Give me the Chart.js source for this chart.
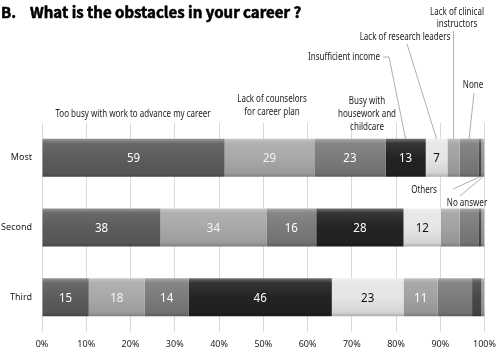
<!DOCTYPE html>
<html>
<head>
<meta charset="utf-8">
<script src="https://cdn.jsdelivr.net/npm/chart.js@4.4.1/dist/chart.umd.min.js"></script>
<style>
  body { margin: 0; background: #fff; }
  #wrap { width: 503px; height: 349px; position: relative; }
</style>
</head>
<body>
<div id="wrap"><canvas id="obstacleChart"></canvas></div>
<script>
const categories = ['Most', 'Second', 'Third'];

// answer counts per rank
const tooBusy         = [59, 38, 15];
const counselors      = [29, 34, 18];
const housework       = [23, 16, 14];
const income          = [13, 28, 46];
const researchLeaders = [7, 12, 23];
const clinical        = [4, 6, 11];
const noneAnswer      = [6, 6, 11];
const others          = [1, 1, 3];
const noAnswer        = [1, 1, 1];

const xTicks = [0, 10, 20, 30, 40, 50, 60, 70, 80, 90, 100];

const series = [
    { name: 'Too busy with work to advance my career', counts: tooBusy, color: '#5c5c5c', text: '#ffffff' },
    { name: 'Lack of counselors for career plan', counts: counselors, color: '#a9a9a9', text: '#f4f4f4' },
    { name: 'Busy with housework and childcare', counts: housework, color: '#7b7b7b', text: '#ffffff' },
    { name: 'Insufficient income', counts: income, color: '#232323', text: '#ffffff' },
    { name: 'Lack of research leaders', counts: researchLeaders, color: '#e6e6e6', text: '#111111' },
    { name: 'Lack of clinical instructors', counts: clinical, color: '#a2a2a2', text: '#ffffff' },
    { name: 'None', counts: noneAnswer, color: '#7c7c7c', text: '#ffffff' },
    { name: 'Others', counts: others, color: '#4b4649', text: '#ffffff' },
    { name: 'No answer', counts: noAnswer, color: '#9a9a9a', text: '#ffffff' }
];

const totals = categories.map((c, i) => series.reduce((s, d) => s + d.counts[i], 0));

function shade(hex, amt) {
    const n = parseInt(hex.slice(1), 16);
    let r = n >> 16, g = (n >> 8) & 255, b = n & 255;
    const t = amt < 0 ? 0 : 255, p = Math.abs(amt);
    r = Math.round(r + (t - r) * p);
    g = Math.round(g + (t - g) * p);
    b = Math.round(b + (t - b) * p);
    return `rgb(${r},${g},${b})`;
}

// bevel look like the office chart
function bevel(ctx, base) {
    const y = ctx.chart.scales.y;
    if (!y || ctx.dataIndex == null) return base;
    const yc = y.getPixelForValue(ctx.dataIndex);
    if (!isFinite(yc)) return base;
    const g = ctx.chart.ctx.createLinearGradient(0, yc - 19, 0, yc + 19);
    g.addColorStop(0, shade(base, 0.35));
    g.addColorStop(0.12, shade(base, 0.08));
    g.addColorStop(0.5, base);
    g.addColorStop(0.9, shade(base, -0.08));
    g.addColorStop(1, shade(base, -0.25));
    return g;
}

const segmentLabels = {
    id: 'segmentLabels',
    afterDatasetsDraw(chart) {
        const ctx = chart.ctx;
        ctx.save();
        ctx.font = '12.5px "Noto Sans"';
        ctx.textAlign = 'center';
        ctx.textBaseline = 'middle';
        series.forEach((s, di) => {
            if (di > 5) return;
            chart.getDatasetMeta(di).data.forEach((bar, i) => {
                const v = s.counts[i];
                if (v < 7) return;
                ctx.fillStyle = s.text;
                const t = String(v);
                ctx.fillText(t, (bar.x + bar.base) / 2, bar.y + 1, ctx.measureText(t).width * 0.92);
            });
        });
        ctx.restore();
    }
};

const callouts = {
    id: 'callouts',
    afterDraw(chart) {
        const ctx = chart.ctx;
        const bar = di => chart.getDatasetMeta(di).data[0];
        const mid = di => (bar(di).x + bar(di).base) / 2;
        const top = di => bar(di).y - bar(di).height / 2;
        const bottom = di => bar(di).y + bar(di).height / 2;
        // narrow text, the original uses a condensed face
        const say = (t, x, y) => ctx.fillText(t, x, y, ctx.measureText(t).width * 0.8);

        ctx.save();
        // title
        ctx.fillStyle = '#000';
        ctx.strokeStyle = '#000';
        ctx.lineWidth = 0.6;
        ctx.textBaseline = 'middle';
        ctx.textAlign = 'left';
        ctx.font = 'bold 15px "Noto Sans CJK JP"';
        ctx.fillText('B.', 1, 12);
        ctx.strokeText('B.', 1, 12);
        ctx.fillText('What is the obstacles in your career ?', 30, 12);
        ctx.strokeText('What is the obstacles in your career ?', 30, 12);

        ctx.font = '10px "Noto Sans"';
        ctx.fillStyle = '#222';
        ctx.textAlign = 'center';
        say('Too busy with work to advance my career', 133, 114);
        say('Lack of counselors', 272, 99);
        say('for career plan', 272, 112);
        say('Busy with', 367, 101);
        say('housework and', 367, 114);
        say('childcare', 367, 127);
        say('Lack of research leaders', 405, 37);
        say('Lack of clinical', 457, 12);
        say('instructors', 457, 24);
        say('None', 473, 85);
        say('Others', 424, 190);
        say('No answer', 467, 203);
        ctx.textAlign = 'right';
        say('Insufficient income', 380, 57);

        ctx.strokeStyle = '#9a9a9a';
        ctx.lineWidth = 0.8;
        const line = pts => {
            ctx.beginPath();
            ctx.moveTo(pts[0][0], pts[0][1]);
            pts.slice(1).forEach(p => ctx.lineTo(p[0], p[1]));
            ctx.stroke();
        };
        line([[383, 57], [389, 57], [mid(3), top(3)]]);
        line([[407, 44], [mid(4), top(4)]]);
        line([[mid(5), 31], [mid(5), top(5)]]);
        line([[474, 93], [mid(6), top(6)]]);
        line([[453, 189], [mid(7), bottom(7)]]);
        line([[460, 196], [mid(8), bottom(8)]]);
        ctx.restore();
    }
};

new Chart(document.getElementById('obstacleChart'), {
    type: 'bar',
    data: {
        labels: categories,
        datasets: series.map(s => ({
            label: s.name,
            data: s.counts.map((v, i) => v / totals[i] * 100),
            backgroundColor: ctx => bevel(ctx, s.color),
            borderWidth: 0,
            barPercentage: 0.545,
            categoryPercentage: 1
        }))
    },
    options: {
        indexAxis: 'y',
        responsive: true,
        maintainAspectRatio: false,
        animation: false,
        layout: { padding: { top: 123, right: 17, left: 0, bottom: 0 } },
        plugins: {
            legend: { display: false },
            title: { display: false },
            tooltip: { enabled: false }
        },
        scales: {
            x: {
                stacked: true,
                min: 0,
                max: 100,
                afterBuildTicks: axis => { axis.ticks = xTicks.map(v => ({ value: v })); },
                afterFit: axis => { axis.height = 17; },
                grid: { color: '#d9d9d9', drawTicks: false },
                border: { display: false },
                ticks: {
                    padding: 7,
                    color: '#222',
                    font: { family: 'Noto Sans', size: 9 },
                    callback: v => v + '%'
                }
            },
            y: {
                stacked: true,
                afterFit: axis => { axis.width = 42; },
                grid: { display: false, drawTicks: false },
                border: { display: false },
                ticks: {
                    padding: 10,
                    color: '#222',
                    font: { family: 'Noto Sans', size: 9 }
                }
            }
        }
    },
    plugins: [segmentLabels, callouts]
});
</script>
</body>
</html>
